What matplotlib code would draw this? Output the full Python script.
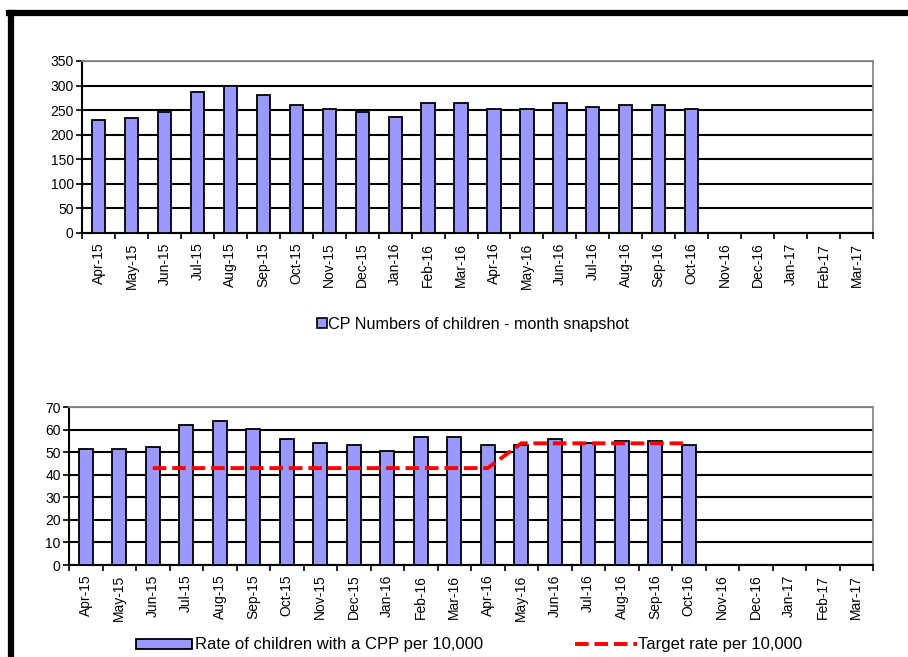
import numpy as np
import matplotlib
matplotlib.use("Agg")
import matplotlib.pyplot as plt
from matplotlib.patches import Patch
from matplotlib.lines import Line2D

plt.rcParams['font.family'] = ['Liberation Sans', 'DejaVu Sans']

months = ["Apr-15", "May-15", "Jun-15", "Jul-15", "Aug-15", "Sep-15", "Oct-15",
          "Nov-15", "Dec-15", "Jan-16", "Feb-16", "Mar-16", "Apr-16", "May-16",
          "Jun-16", "Jul-16", "Aug-16", "Sep-16", "Oct-16", "Nov-16", "Dec-16",
          "Jan-17", "Feb-17", "Mar-17"]

# CP numbers (month snapshot), Apr-15 .. Oct-16
cp_numbers = [229, 233, 247, 286, 299, 281, 261, 253, 246, 237, 265, 265,
              252, 252, 265, 257, 261, 261, 252]

# rate per 10,000
cpp_rate = [51.5, 51.5, 52.4, 62.1, 64.0, 60.2, 55.9, 54.3, 53.3, 50.5, 56.8,
            56.8, 53.3, 53.3, 55.9, 54.3, 55.0, 55.0, 53.3]

# target rate, starts Jun-15
target_rate = [None, None, 43, 43, 43, 43, 43, 43, 43, 43, 43, 43, 43,
               54, 54, 54, 54, 54, 54]

BAR_COLOR = "#9999FF"
DASH = (0, (3.5, 1.5))


def style_axes(ax, ymax, ystep):
    n = len(months)
    ax.set_xlim(-0.5, n - 0.5)
    ax.set_ylim(0, ymax)
    ax.set_yticks(np.arange(0, ymax + 1, ystep))
    ax.set_xticks(np.arange(n))
    ax.set_xticklabels(months, rotation=90, fontsize=10)
    ax.set_xticks(np.arange(n + 1) - 0.5, minor=True)
    ax.tick_params(axis='x', which='major', length=0, pad=7)
    ax.tick_params(axis='x', which='minor', length=4, width=1.2, direction='out')
    ax.tick_params(axis='y', length=4, width=1.2, direction='out', labelsize=10, pad=2)
    ax.grid(axis='y', color='black', lw=1.5)
    ax.set_axisbelow(True)
    for side in ['top', 'right']:
        ax.spines[side].set_color('#888888')
        ax.spines[side].set_linewidth(1.3)
    for side in ['left', 'bottom']:
        ax.spines[side].set_color('black')
        ax.spines[side].set_linewidth(1.5)


fig = plt.figure(figsize=(9.08, 6.57), dpi=100)

# outer frame (thick left and top lines)
fig.add_artist(Line2D([11 / 908, 11 / 908], [0, 1 - 13 / 657], color='black', lw=4.5))
fig.add_artist(Line2D([9 / 908, 1], [1 - 13 / 657, 1 - 13 / 657], color='black', lw=4.5))

# top chart
ax1 = fig.add_axes([82 / 908, 0.6454, 0.8712, 0.2618])
x1 = np.arange(len(cp_numbers))
ax1.bar(x1, cp_numbers, width=0.4, color=BAR_COLOR, edgecolor='black', lw=1.3, zorder=3)
style_axes(ax1, 350, 50)
fig.legend(handles=[Patch(facecolor=BAR_COLOR, edgecolor='black', lw=1.2)],
           labels=["CP Numbers of children - month snapshot"],
           loc='center left', bbox_to_anchor=(317 / 908, 1 - 324 / 657),
           frameon=False, fontsize=11.6, handlelength=0.6, handleheight=0.6,
           handletextpad=0.1, borderpad=0, borderaxespad=0)

# bottom chart
ax2 = fig.add_axes([69 / 908, 0.1400, 0.8855, 0.2401])
x2 = np.arange(len(cpp_rate))
ax2.bar(x2, cpp_rate, width=0.43, color=BAR_COLOR, edgecolor='black', lw=1.3, zorder=3)
tgt = np.array([np.nan if v is None else v for v in target_rate], dtype=float)
ax2.plot(x2, tgt, color='red', lw=2.8, ls=DASH, zorder=4)
style_axes(ax2, 70, 10)

fig.legend(handles=[Patch(facecolor=BAR_COLOR, edgecolor='black', lw=1.3)],
           labels=["Rate of children with a CPP per 10,000"],
           loc='center left', bbox_to_anchor=(136 / 908, 1 - 645 / 657),
           frameon=False, fontsize=12, handlelength=3.35, handleheight=0.55,
           handletextpad=0.2, borderpad=0, borderaxespad=0)
fig.legend(handles=[Line2D([], [], color='red', lw=2.8, ls=DASH)],
           labels=["Target rate per 10,000"],
           loc='center left', bbox_to_anchor=(575 / 908, 1 - 645 / 657),
           frameon=False, fontsize=12, handlelength=3.7,
           handletextpad=0.05, borderpad=0, borderaxespad=0)

fig.savefig("out.png", dpi=100, facecolor='white')
